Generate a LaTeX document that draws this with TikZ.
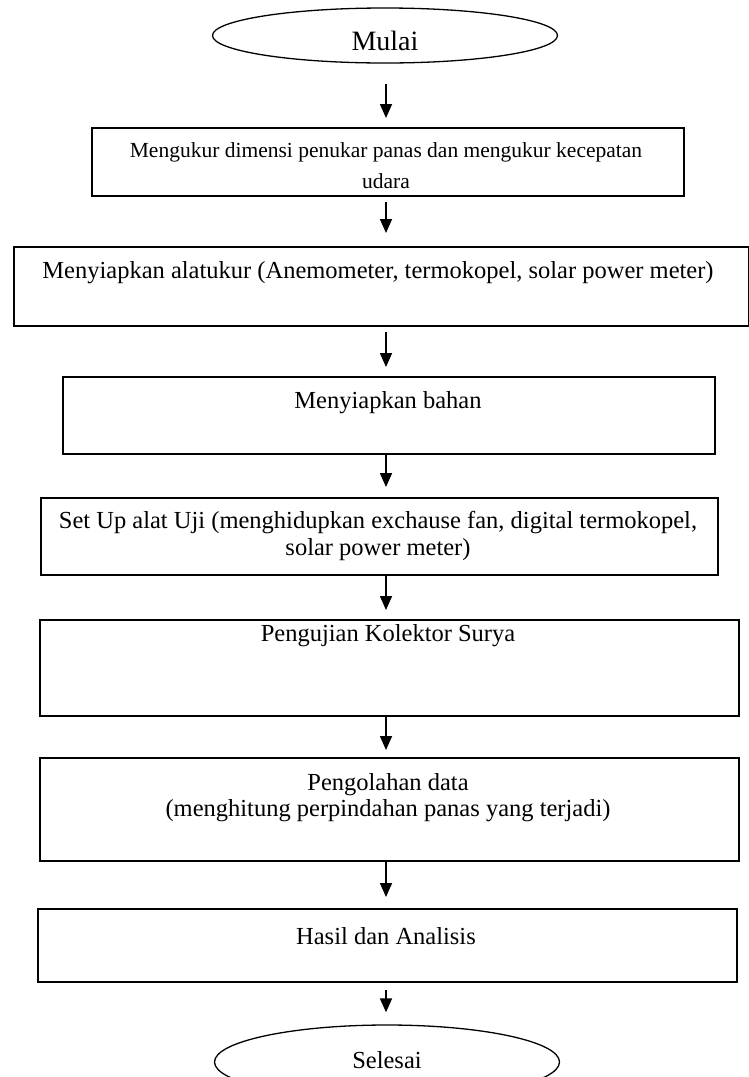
\documentclass[tikz,border=0pt]{standalone}
\usepackage{fontspec}
\setmainfont{Liberation Serif}
\usetikzlibrary{arrows.meta,shapes.geometric}
\begin{document}
\begin{tikzpicture}[x=1pt,y=-1pt,
  boxs/.style={draw, rectangle, line width=1.5pt, inner sep=0pt, anchor=north west},
  term/.style={draw, ellipse, line width=1.3pt, inner sep=0pt},
  txt/.style={font=\fontsize{24.5}{28}\selectfont, inner sep=0pt, align=center},
  small/.style={font=\fontsize{21.5}{25}\selectfont, inner sep=0pt},
  arr/.style={line width=1.6pt, -{Triangle[length=14pt,width=12pt]}}]
\useasboundingbox (0,0) rectangle (749,1077);
\clip (0,0) rectangle (749,1077);
\coordinate (ax) at (386,0);
% terminals
\node[term, minimum width=345pt, minimum height=55pt] (m) at (385,35.5) {};
\node[txt, font=\fontsize{28}{32}\selectfont] (mt) at (385,41) {Mulai};
\node[term, minimum width=345pt, minimum height=74pt] (s) at (387,1062) {};
\node[txt] (st) at (387,1060) {Selesai};
% boxes
\node[boxs, minimum width=592pt, minimum height=68pt] (b1) at (91,127) {};
\node[boxs, minimum width=735pt, minimum height=79pt] (b2) at (13,246) {};
\node[boxs, minimum width=652pt, minimum height=77pt] (b3) at (62,376) {};
\node[boxs, minimum width=677pt, minimum height=77pt] (b4) at (40,497) {};
\node[boxs, minimum width=699pt, minimum height=96pt] (b5) at (39,619) {};
\node[boxs, minimum width=699pt, minimum height=103pt] (b6) at (39,757) {};
\node[boxs, minimum width=699pt, minimum height=73pt] (b7) at (37,908) {};
% texts
\node[small] (t1a) at (386,152) {Mengukur dimensi penukar panas dan mengukur kecepatan};
\node[small] (t1b) at (386,181) {udara};
\node[txt] (t2) at (378,273) {Menyiapkan alatukur (Anemometer, termokopel, solar power meter)};
\node[txt] (t3) at (388,403) {Menyiapkan bahan};
\node[txt] (t4a) at (378,523) {Set Up alat Uji (menghidupkan exchause fan, digital termokopel,};
\node[txt] (t4b) at (378,550) {solar power meter)};
\node[txt] (t5) at (388,636) {Pengujian Kolektor Surya};
\node[txt] (t6a) at (388,785) {Pengolahan data};
\node[txt] (t6b) at (388,811) {(menghitung perpindahan panas yang terjadi)};
\node[txt] (t7) at (386,936) {Hasil dan Analisis};
% arrows
\draw[arr, shorten <=20pt, shorten >=9pt] (m.south -| ax) -- (b1.north -| ax);
\draw[arr, shorten <=5pt, shorten >=13pt] (b1.south -| ax) -- (b2.north -| ax);
\draw[arr, shorten <=5pt, shorten >=9pt] (b2.south -| ax) -- (b3.north -| ax);
\draw[arr, shorten >=10pt] (b3.south -| ax) -- (b4.north -| ax);
\draw[arr, shorten >=9pt] (b4.south -| ax) -- (b5.north -| ax);
\draw[arr, shorten >=7pt] (b5.south -| ax) -- (b6.north -| ax);
\draw[arr, shorten >=11pt] (b6.south -| ax) -- (b7.north -| ax);
\draw[arr, shorten <=7pt, shorten >=12pt] (b7.south -| ax) -- (s.north -| ax);
\end{tikzpicture}
\end{document}
